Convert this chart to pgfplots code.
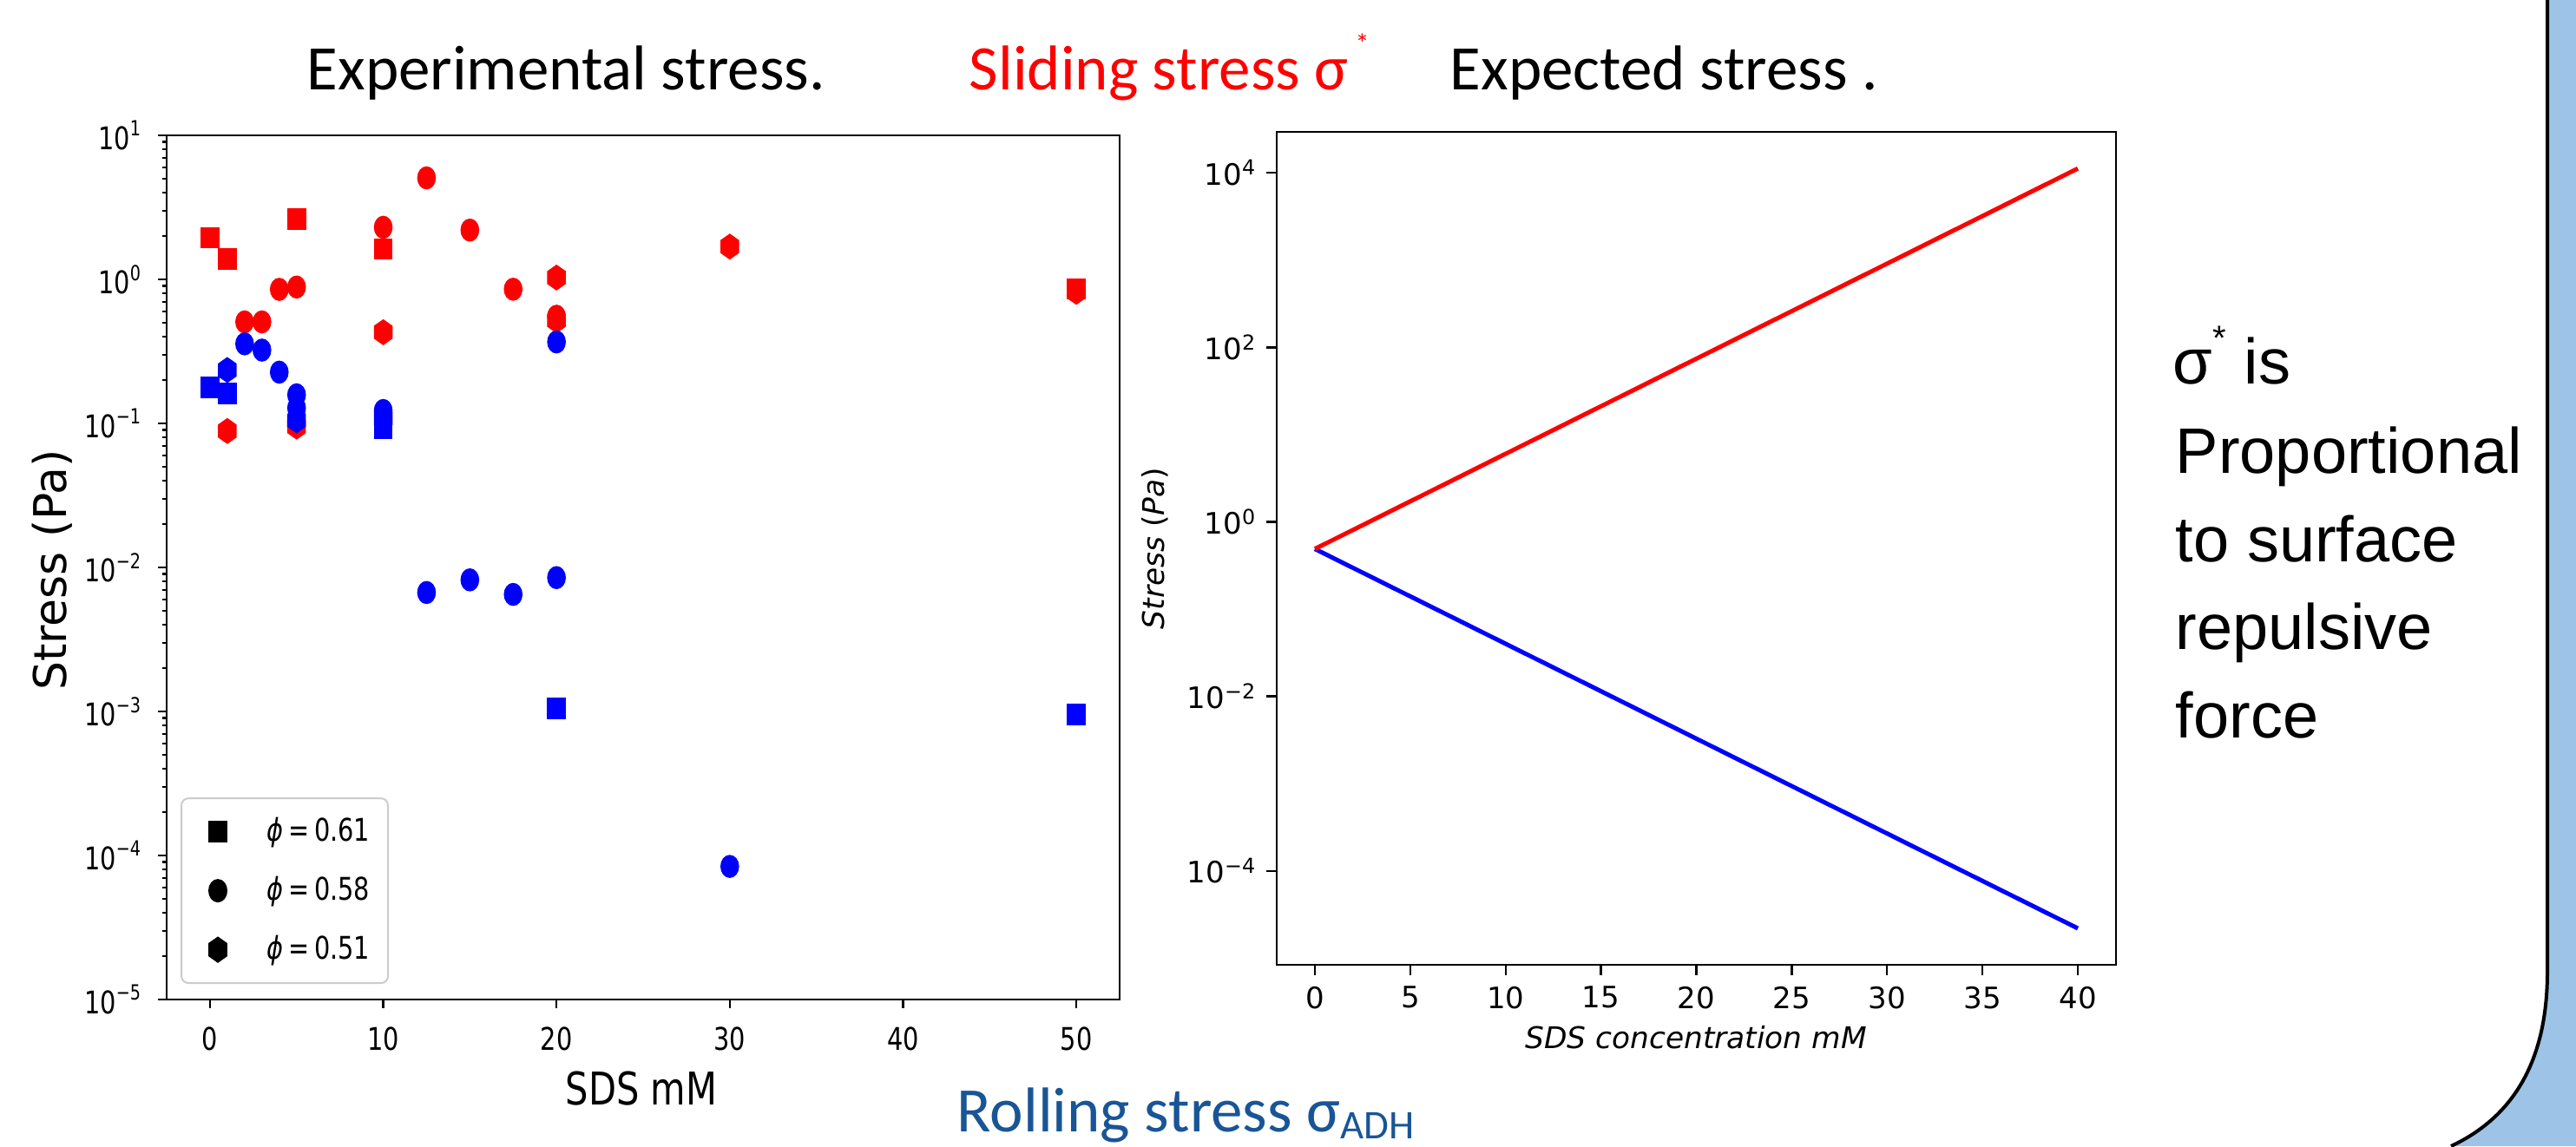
\documentclass[border=0pt]{standalone}
\usepackage{fontspec}
\usepackage{pgfplots}
\pgfplotsset{compat=1.18}
\setmainfont{DejaVu Sans}
\newfontfamily\dvs{DejaVu Sans}
\newfontfamily\dvsc[FakeStretch=0.8]{DejaVu Sans}
\newfontfamily\calib{Carlito}
\newfontfamily\arial{Liberation Sans}
\definecolor{rollblue}{RGB}{25,85,150}
\definecolor{bandblue}{RGB}{157,195,230}
\pgfdeclareplotmark{hexagon*}{%
 \pgfpathmoveto{\pgfqpointpolar{90}{\pgfplotmarksize}}%
 \pgfpathlineto{\pgfqpointpolar{150}{\pgfplotmarksize}}%
 \pgfpathlineto{\pgfqpointpolar{210}{\pgfplotmarksize}}%
 \pgfpathlineto{\pgfqpointpolar{270}{\pgfplotmarksize}}%
 \pgfpathlineto{\pgfqpointpolar{330}{\pgfplotmarksize}}%
 \pgfpathlineto{\pgfqpointpolar{30}{\pgfplotmarksize}}%
 \pgfpathclose
 \pgfusepathqfillstroke}
\pgfplotsset{
 sq/.style={only marks, mark=square*, mark size=2.875pt, mark options={xscale=0.87}},
 ci/.style={only marks, mark=*, mark size=3.125pt, mark options={xscale=0.8}},
 hx/.style={only marks, mark=hexagon*, mark size=3.5pt, mark options={xscale=0.82}},
}
\begin{document}
\begin{tikzpicture}
\path[use as bounding box] (0,0) rectangle (742pt,-330.25pt);
% blue band at right
\fill[bandblue] (733.75pt,0) -- (733.75pt,-280pt) .. controls (733.75pt,-307.5pt) and (722.5pt,-322.5pt) .. (706pt,-330.25pt) -- (742pt,-330.25pt) -- (742pt,0) -- cycle;
\draw[black, line width=1pt] (733.75pt,0) -- (733.75pt,-280pt) .. controls (733.75pt,-307.5pt) and (722.5pt,-322.5pt) .. (706pt,-330.25pt);

% ---------------- left axis: experimental stress
\begin{axis}[
 at={(48pt,-288pt)}, anchor=south west, scale only axis,
 width=274.5pt, height=249pt,
 ymode=log, xmin=-2.5, xmax=52.5, ymin=1e-5, ymax=10,
 axis line style={line width=0.6pt},
 tick align=outside, tick pos=left,
 major tick length=2.5pt, minor tick length=1.3pt,
 tick style={black, line width=0.6pt},
 xtick={0,10,20,30,40,50},
 xticklabels={0,10,20,30,40,50},
 ytick={1e-5,1e-4,1e-3,1e-2,1e-1,1,10},
 yticklabels={10\textsuperscript{−5},10\textsuperscript{−4},10\textsuperscript{−3},10\textsuperscript{−2},10\textsuperscript{−1},10\textsuperscript{0},10\textsuperscript{1}},
 minor ytick={2e-5,3e-5,4e-5,5e-5,6e-5,7e-5,8e-5,9e-5,
  2e-4,3e-4,4e-4,5e-4,6e-4,7e-4,8e-4,9e-4,
  2e-3,3e-3,4e-3,5e-3,6e-3,7e-3,8e-3,9e-3,
  2e-2,3e-2,4e-2,5e-2,6e-2,7e-2,8e-2,9e-2,
  0.2,0.3,0.4,0.5,0.6,0.7,0.8,0.9,2,3,4,5,6,7,8,9},
 ticklabel style={font=\dvsc\fontsize{9}{9}\selectfont, inner sep=0pt},
 yticklabel style={anchor=east, xshift=-4.25pt},
 xticklabel style={anchor=north, yshift=-5.25pt},
 legend style={at={(0.0146,0.0181)}, anchor=south west, draw=black!20, line width=0.5pt,
   rounded corners=2pt, inner xsep=0pt, inner ysep=1.1pt, row sep=0pt, column sep=0pt,
   cells={anchor=west}, nodes={inner sep=0pt}, font=\dvsc\fontsize{9}{9}\selectfont},
 legend image code/.code={\path[draw=none, fill=none] (-10.5pt,-8.5pt) rectangle (14pt,8.5pt); \draw[#1] plot coordinates {(0pt,0pt)};},
]
\addlegendimage{sq, black}
\addlegendentry{\makebox[35pt][l]{{\itshape ϕ}\,=\,0.61}}
\addlegendimage{ci, black}
\addlegendentry{\makebox[35pt][l]{{\itshape ϕ}\,=\,0.58}}
\addlegendimage{hx, black}
\addlegendentry{\makebox[35pt][l]{{\itshape ϕ}\,=\,0.51}}
% sliding stress (red)
\addplot[sq, red, forget plot] coordinates {(0,1.95) (1,1.39) (5,2.62) (10,1.63) (50,0.86)};
\addplot[hx, red, forget plot] coordinates {(1,0.0886) (5,0.095) (10,0.43) (20,1.03) (20,0.52) (30,1.69) (50,0.82)};
\addplot[ci, red, forget plot] coordinates {(2,0.507) (3,0.507) (4,0.853) (5,0.885) (10,2.30) (12.5,5.07) (15,2.2) (17.5,0.855) (20,0.555)};
% rolling stress (blue)
\addplot[sq, blue, forget plot] coordinates {(0,0.178) (1,0.162) (10,0.092) (20,0.00105) (50,0.00095)};
\addplot[hx, blue, forget plot] coordinates {(1,0.235) (5,0.105) (10,0.108)};
\addplot[ci, blue, forget plot] coordinates {(2,0.357) (3,0.323) (4,0.227) (5,0.158) (5,0.128) (10,0.123) (12.5,0.0067) (15,0.0082) (17.5,0.0065) (20,0.0085) (20,0.368) (30,8.4e-5)};
\end{axis}

% ---------------- right axis: expected stress
\begin{axis}[
 at={(367.75pt,-278pt)}, anchor=south west, scale only axis,
 width=241.75pt, height=240pt,
 ymode=log, xmin=-2, xmax=42, ymin=8.41e-6, ymax=2.94e4,
 axis line style={line width=0.6pt},
 tick align=outside, tick pos=left,
 major tick length=3pt, minor tick length=0pt,
 tick style={black, line width=0.6pt},
 xtick={0,5,10,15,20,25,30,35,40},
 xticklabels={0,5,10,15,20,25,30,35,40},
 ytick={1e-4,1e-2,1,1e2,1e4},
 yticklabels={10\textsuperscript{−4},10\textsuperscript{−2},10\textsuperscript{0},10\textsuperscript{2},10\textsuperscript{4}},
 ticklabel style={font=\dvs\fontsize{8.5}{8.5}\selectfont, inner sep=0pt},
 yticklabel style={anchor=east, xshift=-2.5pt},
 xticklabel style={anchor=north, yshift=-3pt},
]
\addplot[blue, line width=1.25pt] coordinates {(0,0.49) (40,2.2e-5)};
\addplot[red, line width=1.25pt] coordinates {(0,0.49) (40,11200)};
\end{axis}

% axis labels
\node[rotate=90, font=\dvs\fontsize{13}{13}\selectfont, inner sep=0pt] at (15pt,-164.25pt) {Stress (Pa)};
\node[anchor=base, font=\dvsc\fontsize{13}{13}\selectfont, inner sep=0pt] at (184.75pt,-318.25pt) {SDS mM};
\node[rotate=90, font=\dvs\fontsize{8.6}{8.6}\selectfont, inner sep=0pt] at (332.75pt,-158pt) {{\itshape Stress} ({\itshape Pa})};
\node[anchor=base, font=\dvs\itshape\fontsize{8.6}{8.6}\selectfont, inner sep=0pt] at (488.5pt,-302pt) {SDS concentration mM};

% titles
\node[anchor=base west, inner sep=0pt, font=\calib\fontsize{18.25}{20}\selectfont] at (88.25pt,-25.75pt) {Experimental stress.};
\node[anchor=base west, inner sep=0pt, font=\calib\fontsize{18.25}{20}\selectfont, text=red] at (279pt,-25.75pt) {Sliding stress σ\kern2pt\raisebox{10.5pt}{\fontsize{8}{8}\selectfont *}};
\node[anchor=base west, inner sep=0pt, font=\calib\fontsize{18.25}{20}\selectfont] at (417.5pt,-25.75pt) {Expected stress .};
\node[anchor=base west, inner sep=0pt, font=\calib\fontsize{18.25}{20}\selectfont, text=rollblue] at (275.5pt,-326pt) {Rolling stress σ\raisebox{-2pt}{\fontsize{11.7}{12}\selectfont ADH}};

% right-hand text
\begin{scope}[every node/.style={anchor=base west, inner sep=0pt, font=\arial\fontsize{18.5}{20}\selectfont}]
\node at (625.75pt,-110.5pt) {σ\raisebox{9.75pt}{\fontsize{10}{10}\selectfont *} is};
\node at (626.5pt,-136.25pt) {Proportional};
\node at (626.5pt,-161.75pt) {to surface};
\node at (626.5pt,-187pt) {repulsive};
\node at (626.5pt,-212.5pt) {force};
\end{scope}
\end{tikzpicture}
\end{document}
